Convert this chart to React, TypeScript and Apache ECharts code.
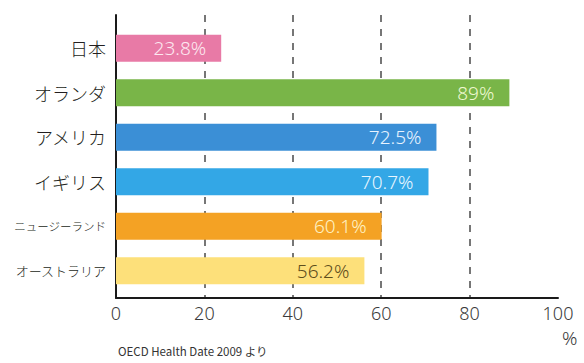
import React, { useEffect, useRef } from "react";
import * as echarts from "echarts";

const categories = ["日本", "オランダ", "アメリカ", "イギリス", "ニュージーランド", "オーストラリア"];
const values = [23.8, 89, 72.5, 70.7, 60.1, 56.2];
const barColors = ["#e87aa6", "#79b548", "#3b8fd6", "#33a7e6", "#f4a224", "#fde07a"];
const labelColors = ["#fde8f0", "#eef8d0", "#e8f3ff", "#e8f6ff", "#fff3c4", "#5e4e1c"];
const catFontSizes = [18, 18, 18, 18, 11.5, 13];
const xTicks = { min: 0, max: 100, interval: 20 };
const unitLabel = "%";
const sourceNote = "OECD Health Date 2009 より";

const FONT = "'Noto Sans CJK JP', 'Noto Sans', sans-serif";
const NUMFONT = "'Noto Sans', 'Noto Sans CJK JP', sans-serif";

export default function App() {
  const ref = useRef<HTMLDivElement>(null);
  useEffect(() => {
    if (!ref.current) return;
    const chart = echarts.init(ref.current, undefined, { renderer: "svg" });
    const rich: Record<string, any> = {};
    catFontSizes.forEach((s, i) => {
      rich["c" + i] = { fontSize: s, color: "#231f20", fontFamily: FONT, fontWeight: 300 };
    });
    chart.setOption({
      animation: false,
      textStyle: { fontFamily: FONT },
      grid: [
        { left: 116, right: 26, top: 26, bottom: 70 },
        { left: 116, right: 26, top: 15, bottom: 65 },
      ],
      xAxis: [
        { gridIndex: 0, type: "value", min: xTicks.min, max: xTicks.max, interval: xTicks.interval, show: false },
        {
          gridIndex: 1,
          type: "value",
          min: xTicks.min,
          max: xTicks.max,
          interval: xTicks.interval,
          axisLine: { show: true, lineStyle: { color: "#1a1a1a", width: 2 } },
          axisTick: { show: false },
          axisLabel: { fontSize: 18, color: "#3a3a3a", margin: 6, fontFamily: NUMFONT, fontWeight: 300 },
          splitLine: {
            show: true,
            showMinLine: false,
            showMaxLine: false,
            lineStyle: { type: [7, 7], color: "#4a4a4a", width: 1.5 },
          },
        },
      ],
      yAxis: [
        {
          gridIndex: 0,
          type: "category",
          inverse: true,
          data: categories,
          axisLine: { show: false },
          axisTick: { show: false },
          axisLabel: {
            margin: 10,
            formatter: (v: string, i: number) => `{c${i}|${v}}`,
            rich,
          },
        },
        {
          gridIndex: 1,
          type: "value",
          min: 0,
          max: 1,
          axisLine: { show: true, lineStyle: { color: "#1a1a1a", width: 2 } },
          axisTick: { show: false },
          axisLabel: { show: false },
          splitLine: { show: false },
        },
      ],
      series: [
        {
          type: "bar",
          xAxisIndex: 0,
          yAxisIndex: 0,
          barWidth: 27,
          data: values.map((v, i) => ({
            value: v,
            itemStyle: { color: barColors[i] },
            label: { color: labelColors[i] },
          })),
          label: {
            show: true,
            position: "insideRight",
            distance: 15,
            formatter: "{c}%",
            fontSize: 19,
            fontWeight: 300,
            fontFamily: NUMFONT,
          },
        },
      ],
      graphic: [
        {
          type: "text",
          left: 562,
          top: 328,
          style: { text: unitLabel, fontSize: 19, fill: "#3a3a3a", fontFamily: NUMFONT, fontWeight: 300 },
        },
        {
          type: "text",
          left: 118,
          top: 345,
          style: { text: sourceNote, fontSize: 11.5, fill: "#333", fontFamily: FONT },
        },
      ],
    });
    return () => chart.dispose();
  }, []);
  return <div ref={ref} style={{ position: "absolute", left: 0, top: 0, width: 584, height: 363 }} />;
}
